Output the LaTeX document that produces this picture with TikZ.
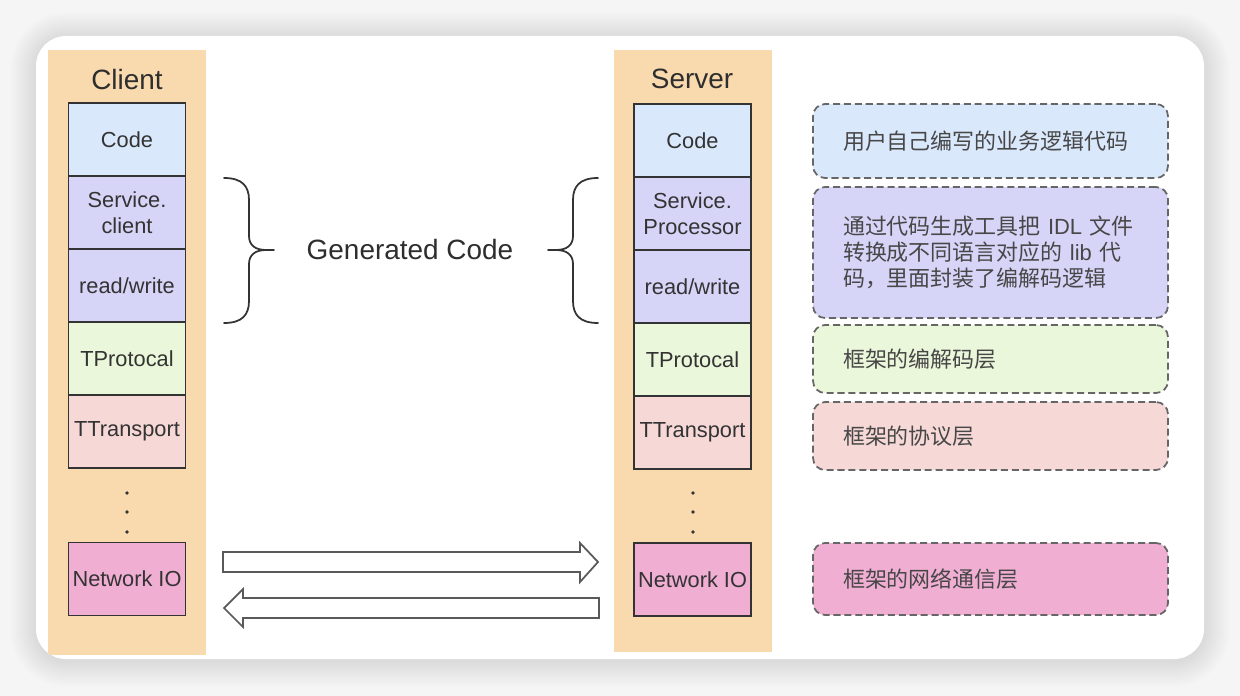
\documentclass[tikz,border=0pt]{standalone}
\usepackage{fontspec}
\setmainfont{Liberation Sans}
\newfontfamily\cjk{Noto Sans CJK SC}
\usepackage{tikz}
\usetikzlibrary{positioning}
\definecolor{pagebg}{HTML}{F5F5F5}
\definecolor{panel}{HTML}{F9D9AE}
\definecolor{codeblue}{HTML}{DAE8FC}
\definecolor{genpurple}{HTML}{D6D4F7}
\definecolor{protogreen}{HTML}{EBF7DA}
\definecolor{transpink}{HTML}{F6D8D7}
\definecolor{netpink}{HTML}{F0AED3}
\colorlet{boxline}{black!80}
\colorlet{notetext}{black!72}

\tikzset{
  layer/.style={draw=boxline, line width=1pt, minimum width=2.34cm, minimum height=1.46cm,
    inner sep=0pt, outer sep=0pt, align=center, text=black!80,
    font=\fontsize{12.4}{14.6}\selectfont},
  stacktitle/.style={text=black!82, font=\fontsize{15.9}{18}\selectfont},
  note/.style={draw=black!60, dash pattern=on 4pt off 2.2pt, line width=1pt,
    rounded corners=0.24cm, text width=5.9cm, inner xsep=0.6cm, inner ysep=0pt,
    align=left, text=notetext, font=\cjk\fontsize{12.5}{14.7}\selectfont},
  genbrace/.style={line width=1pt, draw=black!80, line cap=round},
  blockarrow/.style={draw=black!65, line width=1pt, fill=white, line join=miter}
}

\begin{document}
\begin{tikzpicture}[x=0.02cm, y=-0.02cm]
        \useasboundingbox (0,0) rectangle (1240,696);
        \fill[pagebg] (0,0) rectangle (1240,696);
        \foreach \r [evaluate=\r as \rc using 0.6+0.02*\r] in {1,...,26}
        {
            \fill[black, opacity=0.004, rounded corners=\rc cm] ({36-\r},{38-\r}) rectangle ({1204+\r},{661+\r});
        }
        \fill[white, rounded corners=0.6cm] (36,36) rectangle (1204,659);
        \begin{scope}
            \clip[rounded corners=0.6cm] (36,36) rectangle (1204,659);
            \fill[panel] (48,50) rectangle (206,655);
            \fill[panel] (614,50) rectangle (772,652);
        \end{scope}

        \node[stacktitle] (ctitle) at (127,80) {Client};
        \node[layer, fill=codeblue] (ccode) at (127,139.5) {Code};
        \node[layer, fill=genpurple, below=0pt of ccode] (csvc) {Service.\\client};
        \node[layer, fill=genpurple, below=0pt of csvc] (crw) {read/write};
        \node[layer, fill=protogreen, below=0pt of crw] (cproto) {TProtocal};
        \node[layer, fill=transpink, below=0pt of cproto] (ctrans) {TTransport};
        \node[layer, fill=netpink] (cnet) at (127,579) {Network IO};

        \node[stacktitle] (stitle) at (692,79) {Server};
        \node[layer, fill=codeblue] (scode) at (692.5,140.5) {Code};
        \node[layer, fill=genpurple, below=0pt of scode] (ssvc) {Service.\\Processor};
        \node[layer, fill=genpurple, below=0pt of ssvc] (srw) {read/write};
        \node[layer, fill=protogreen, below=0pt of srw] (sproto) {TProtocal};
        \node[layer, fill=transpink, below=0pt of sproto] (strans) {TTransport};
        \node[layer, fill=netpink] (snet) at (692.5,579.5) {Network IO};

        \foreach \y in {493,512,532}
        {
            \fill[black!80] (127,\y) circle (1.1pt);
            \fill[black!80] (693,\y) circle (1.1pt);
        }

        \coordinate (lbtop) at (224,178);
        \coordinate (rbtop) at (598,178);
        \foreach \b/\s in {lbtop/1,rbtop/-1}
        {
            \draw[genbrace, shift={(\b)}, xscale=\s] (0,0) .. controls (18,0) and (25,8) .. (25,22)
                -- (25,58) .. controls (25,67) and (31,72) .. (42,72) -- (50,72)
                (42,72) .. controls (31,72) and (25,77) .. (25,86)
                -- (25,123) .. controls (25,137) and (18,145) .. (0,145);
        }
        \node[stacktitle] (gencode) at (410,250) {Generated Code};

        \draw[blockarrow] (223,552) -- (580,552) -- (580,543) -- (598,562)
            -- (580,582) -- (580,572) -- (223,572) -- cycle;
        \draw[blockarrow] (599,598) -- (243,598) -- (243,589) -- (224,608)
            -- (243,627) -- (243,618) -- (599,618) -- cycle;

        \node[note, fill=codeblue, minimum height=1.48cm] (ncode) at (990.5,141)
            {用户自己编写的业务逻辑代码};
        \node[note, fill=genpurple, minimum height=2.62cm] (ngen) at (990.5,252.5)
            {通过代码生成工具把 {\normalfont IDL} 文件\\转换成不同语言对应的 {\normalfont lib} 代\\码，里面封装了编解码逻辑};
        \node[note, fill=protogreen, minimum height=1.36cm] (nproto) at (990.5,359)
            {框架的编解码层};
        \node[note, fill=transpink, minimum height=1.36cm] (ntrans) at (990.5,436)
            {框架的协议层};
        \node[note, fill=netpink, minimum height=1.44cm] (nnet) at (990.5,579)
            {框架的网络通信层};
    \end{tikzpicture}
\end{document}
